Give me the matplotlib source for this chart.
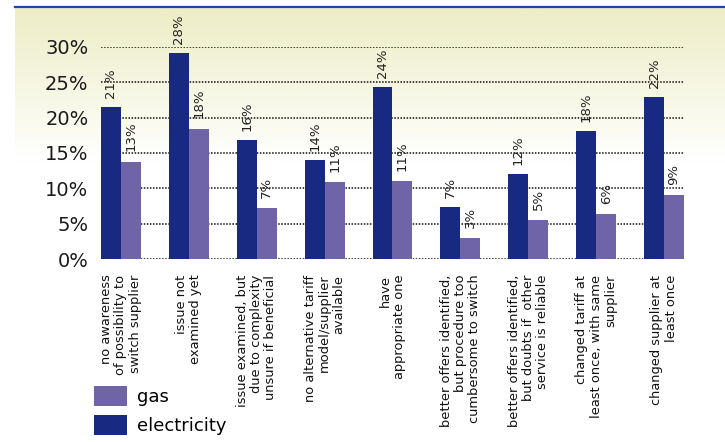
import numpy as np
import matplotlib
matplotlib.use("Agg")
import matplotlib.pyplot as plt
from matplotlib.patches import Patch
from matplotlib.lines import Line2D

categories = [
    "no awareness\nof possibility to\nswitch supplier",
    "issue not\nexamined yet",
    "issue examined, but\ndue to complexity\nunsure if beneficial",
    "no alternative tariff\nmodel/supplier\navailable",
    "have\nappropriate one",
    "better offers identified,\nbut procedure too\ncumbersome to switch",
    "better offers identified,\nbut doubts if  other\nservice is reliable",
    "changed tariff at\nleast once, with same\nsupplier",
    "changed supplier at\nleast once",
]
electricity = [21.45, 29.1, 16.85, 14.0, 24.3, 7.4, 12.05, 18.1, 22.9]
gas = [13.75, 18.4, 7.25, 10.9, 11.05, 3.0, 5.55, 6.4, 9.07]
electricity_labels = ["21%", "28%", "16%", "14%", "24%", "7%", "12%", "18%", "22%"]
gas_labels = ["13%", "18%", "7%", "11%", "11%", "3%", "5%", "6%", "9%"]
yticks = [0, 5, 10, 15, 20, 25, 30]
ytick_labels = ["0%", "5%", "10%", "15%", "20%", "25%", "30%"]

ELEC_COLOR = "#172981"
GAS_COLOR = "#6E64A7"
W, H = 725, 442

fig = plt.figure(figsize=(W / 100, H / 100), dpi=100)
fig.patch.set_facecolor("white")

# background gradient
bg = fig.add_axes([15 / W, 0, 1 - 15 / W, (H - 8) / H], zorder=-10)
bg.axis("off")
rows = 300
top = np.array([237, 237, 198]) / 255.0
grad = np.ones((rows, 2, 3))
n = int(rows * 155 / (H - 8))
t = np.linspace(0, 1, n)[:, None]
grad[:n, 0, :] = top * (1 - t) + 1.0 * t
grad[:n, 1, :] = grad[:n, 0, :]
bg.imshow(grad, aspect="auto", extent=[0, 1, 0, 1], interpolation="bilinear")
bg.set_xlim(0, 1)
bg.set_ylim(0, 1)

fig.add_artist(Line2D([15 / W, 1], [1 - 6.5 / H, 1 - 6.5 / H],
                      color="#1B47A8", lw=1.6, transform=fig.transFigure))

ax = fig.add_axes([101 / W, (H - 259.3) / H, (684 - 101) / W, (259.3 - 46.7) / H])
ax.set_facecolor("none")

x = np.arange(len(categories))
bw = 20 / 68
ax.bar(x - bw / 2, electricity, bw, color=ELEC_COLOR, zorder=3)
ax.bar(x + bw / 2, gas, bw, color=GAS_COLOR, zorder=3)

for xi, v, lab in zip(x, electricity, electricity_labels):
    ax.annotate(lab, (xi - bw / 2, v), xytext=(0, 6.5), textcoords="offset points",
                rotation=90, ha="center", va="bottom", fontsize=9.5, color="#222222")
for xi, v, lab in zip(x, gas, gas_labels):
    ax.annotate(lab, (xi + bw / 2, v), xytext=(0, 7.5), textcoords="offset points",
                rotation=90, ha="center", va="bottom", fontsize=9.5, color="#222222")

ax.set_xlim(-bw, len(categories) - 1 + bw)
ax.set_ylim(0, 30)
ax.set_yticks(yticks)
ax.set_yticklabels(ytick_labels, fontsize=14, color="#1a1a1a")
ax.set_xticks(x)
ax.set_xticklabels(categories, rotation=90, ha="center", va="top",
                   multialignment="right", fontsize=9.4, color="#111111",
                   linespacing=1.12)
ax.tick_params(axis="both", length=0)
ax.tick_params(axis="y", pad=9)
ax.tick_params(axis="x", pad=11)
for s in ax.spines.values():
    s.set_visible(False)
for yv in yticks:
    ax.axhline(yv, color="#111111", lw=1.1, ls=(0, (1, 1)), zorder=1)

handles = [Patch(facecolor=GAS_COLOR, label="gas"),
           Patch(facecolor=ELEC_COLOR, label="electricity")]
fig.legend(handles=handles, loc="upper left",
           bbox_to_anchor=(94 / W, 1 - 386 / H), bbox_transform=fig.transFigure,
           frameon=False, fontsize=13, handlelength=1.82, handleheight=1.33,
           handletextpad=0.55, labelspacing=0.5, borderpad=0, borderaxespad=0)

fig.savefig("out.png", dpi=100)
